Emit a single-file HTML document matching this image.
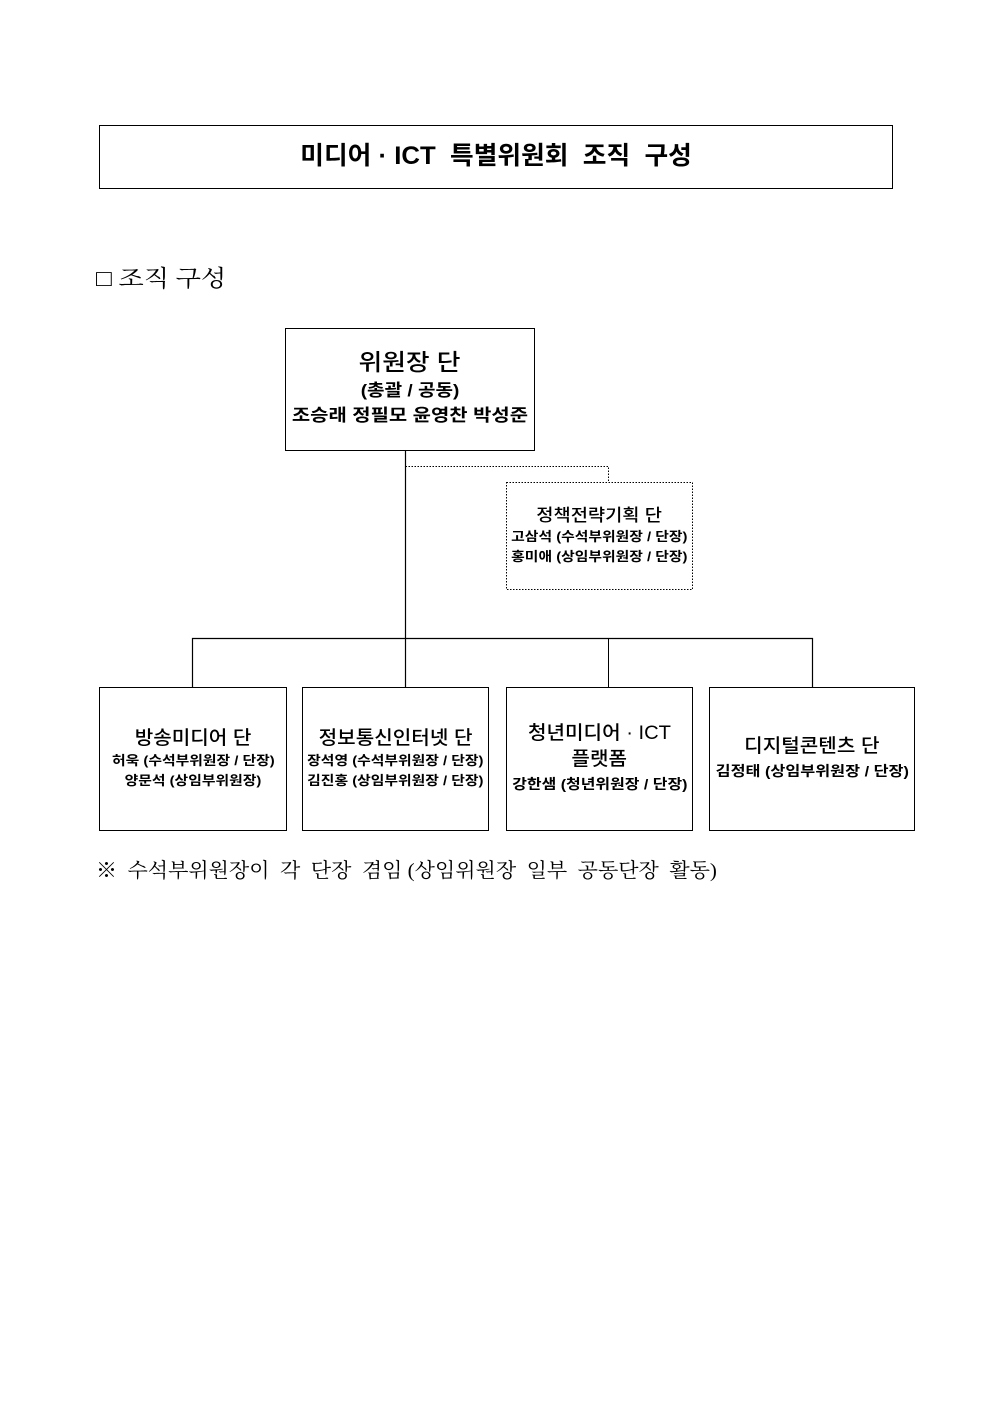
<!DOCTYPE html>
<html><head><meta charset="utf-8"><style>
html,body{margin:0;padding:0;background:#fff;}
body{width:992px;height:1403px;position:relative;overflow:hidden;font-family:"Liberation Sans","Noto Sans CJK KR",sans-serif;color:#000;}
.abs{position:absolute;}
.box{position:absolute;border:1px solid #000;box-sizing:border-box;}
.t{position:absolute;left:-20px;right:-20px;text-align:center;white-space:nowrap;}
.t span{display:inline-block;transform-origin:center;}
.b{font-weight:bold;}
.m{font-weight:500;}
.s1 span{transform:scaleX(1.14);}
.s2 span{transform:scaleX(1.06);}
</style></head><body>
<div class="box" style="left:99px;top:125px;width:794px;height:64px;"></div>
<div class="t b" style="left:0;right:0;top:140px;font-size:25px;line-height:32px;"><span style="transform:scaleX(1.03)">미디어 · ICT &nbsp;특별위원회 &nbsp;조직 &nbsp;구성</span></div>

<div class="abs" style="left:96px;top:263px;font-size:23px;line-height:32px;white-space:nowrap;font-family:'Liberation Serif','Noto Serif CJK KR',serif;"><span style="display:inline-block;transform:scaleX(1.14);transform-origin:left;">□ 조직 구성</span></div>

<svg class="abs" style="left:0;top:0" width="992" height="1000">
<line x1="405.5" y1="450" x2="405.5" y2="638" stroke="#000" stroke-width="1.2"/>
<polyline points="405.5,466.5 608.5,466.5 608.5,482" fill="none" stroke="#000" stroke-width="1" stroke-dasharray="1.5,1.5"/>
<rect x="506.5" y="482.5" width="186" height="107" fill="none" stroke="#000" stroke-width="1" stroke-dasharray="1.5,1.5"/>
<polyline points="192.5,687 192.5,638.5 812.5,638.5 812.5,687" fill="none" stroke="#000" stroke-width="1.2"/>
<line x1="405.5" y1="638" x2="405.5" y2="687" stroke="#000" stroke-width="1.2"/>
<line x1="608.5" y1="638" x2="608.5" y2="687" stroke="#000" stroke-width="1"/>
</svg>

<div class="box" style="left:285px;top:328px;width:250px;height:123px;">
<div class="t m" style="top:18px;font-size:23px;line-height:30px;"><span style="transform:scaleX(1.12)">위원장 단</span></div>
<div class="t b" style="top:50px;font-size:17px;line-height:24px;"><span style="transform:scaleX(1.12)">(총괄 / 공동)</span></div>
<div class="t b" style="top:75px;font-size:17px;line-height:24px;"><span style="transform:scaleX(1.17)">조승래 정필모 윤영찬 박성준</span></div>
</div>

<div class="abs" style="left:506px;top:482px;width:187px;height:108px;">
<div class="t m s2" style="top:22px;font-size:17px;line-height:24px;"><span style="transform:scaleX(1.1)">정책전략기획 단</span></div>
<div class="t b s1" style="top:46px;font-size:13px;line-height:18px;"><span>고삼석 (수석부위원장 / 단장)</span></div>
<div class="t b s1" style="top:66px;font-size:13px;line-height:18px;"><span>홍미애 (상임부위원장 / 단장)</span></div>
</div>

<div class="box" style="left:99px;top:687px;width:188px;height:144px;">
<div class="t m s2" style="top:38px;font-size:19px;line-height:26px;"><span>방송미디어 단</span></div>
<div class="t b s1" style="top:64px;font-size:13px;line-height:18px;"><span>허욱 (수석부위원장 / 단장)</span></div>
<div class="t b s1" style="top:84px;font-size:13px;line-height:18px;"><span>양문석 (상임부위원장)</span></div>
</div>
<div class="box" style="left:302px;top:687px;width:187px;height:144px;">
<div class="t m s2" style="top:38px;font-size:19px;line-height:26px;"><span>정보통신인터넷 단</span></div>
<div class="t b s1" style="top:64px;font-size:13px;line-height:18px;"><span>장석영 (수석부위원장 / 단장)</span></div>
<div class="t b s1" style="top:84px;font-size:13px;line-height:18px;"><span>김진홍 (상임부위원장 / 단장)</span></div>
</div>
<div class="box" style="left:506px;top:687px;width:187px;height:144px;">
<div class="t m s2" style="top:33px;font-size:19px;line-height:26px;"><span>청년미디어 · ICT</span></div>
<div class="t m s2" style="top:59px;font-size:19px;line-height:26px;"><span>플랫폼</span></div>
<div class="t b s1" style="top:86px;font-size:14px;line-height:20px;"><span>강한샘 (청년위원장 / 단장)</span></div>
</div>
<div class="box" style="left:709px;top:687px;width:206px;height:144px;">
<div class="t m s2" style="top:46px;font-size:19px;line-height:26px;"><span>디지털콘텐츠 단</span></div>
<div class="t b" style="top:73px;font-size:14px;line-height:20px;"><span style="transform:scaleX(1.16)">김정태 (상임부위원장 / 단장)</span></div>
</div>

<div class="abs" style="left:96px;top:856px;font-size:20px;line-height:30px;white-space:nowrap;font-family:'Liberation Serif','Noto Serif CJK KR',serif;"><span style="display:inline-block;transform:scaleX(1.05);transform-origin:left;">※ &nbsp;수석부위원장이 &nbsp;각 &nbsp;단장 &nbsp;겸임 (상임위원장 &nbsp;일부 &nbsp;공동단장 &nbsp;활동)</span></div>
</body></html>
